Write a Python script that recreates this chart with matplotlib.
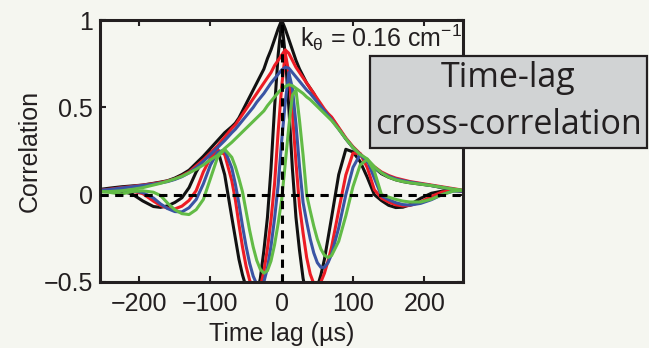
import matplotlib
matplotlib.use("Agg")
import matplotlib.pyplot as plt
from matplotlib.patches import Rectangle

plt.rcParams['font.family'] = ['Liberation Sans', 'DejaVu Sans']
plt.rcParams['mathtext.fontset'] = 'custom'
plt.rcParams['mathtext.rm'] = 'Liberation Sans'
plt.rcParams['mathtext.it'] = 'Liberation Sans:italic'

# time lag (us)
lag = [-255, -240, -225, -210, -195, -180, -170,
       -160, -150, -140, -130, -120, -110, -100, -90, -80, -70,
       -65, -60, -55, -50, -45, -40, -35, -30, -25, -20, -15, -10, -5, 0,
       5, 10, 15, 20, 25, 30, 35, 40, 45, 50, 55, 60, 65, 70,
       80, 90, 100, 110, 120, 130, 140, 150, 160, 170, 180,
       195, 210, 225, 240, 255]

# oscillating cross-correlations
osc_black = [0.03, 0.028, 0.02, 0.004, -0.036, -0.068, -0.073,
             -0.064, -0.045, -0.018, 0.04, 0.13, 0.20, 0.245, 0.26, 0.115, -0.13,
             -0.25, -0.37, -0.46, -0.53, -0.58, -0.60, -0.58, -0.48, -0.32, -0.13, 0.15, 0.50, 0.80, 1.0,
             0.80, 0.50, 0.15, -0.13, -0.32, -0.48, -0.58, -0.60, -0.58, -0.53, -0.46, -0.37, -0.25, -0.13,
             0.115, 0.26, 0.245, 0.19, 0.10, 0.0, -0.034, -0.061, -0.074, -0.072, -0.058,
             -0.021, 0.008, 0.02, 0.025, 0.02]
osc_red = [0.02, 0.025, 0.025, 0.02, 0.006, -0.037, -0.062,
           -0.078, -0.082, -0.066, -0.033, 0.023, 0.13, 0.21, 0.256, 0.23, 0.08,
           -0.03, -0.17, -0.30, -0.41, -0.49, -0.54, -0.56, -0.53, -0.44, -0.31, -0.145, 0.063, 0.36, 0.62,
           0.81, 0.70, 0.47, 0.185, -0.065, -0.22, -0.36, -0.455, -0.51, -0.52, -0.50, -0.45, -0.38, -0.30,
           -0.09, 0.113, 0.238, 0.236, 0.156, 0.028, -0.02, -0.042, -0.058, -0.065, -0.062,
           -0.042, -0.01, 0.015, 0.025, 0.02]
osc_blue = [0.02, 0.025, 0.025, 0.022, 0.012, -0.019, -0.053,
            -0.08, -0.097, -0.099, -0.075, -0.028, 0.061, 0.17, 0.242, 0.257, 0.153,
            0.06, -0.052, -0.179, -0.295, -0.393, -0.467, -0.514, -0.53, -0.50, -0.42, -0.295, -0.137, 0.055, 0.31,
            0.53, 0.70, 0.61, 0.405, 0.16, -0.045, -0.155, -0.254, -0.334, -0.39, -0.417, -0.416, -0.39, -0.342,
            -0.19, 0.0, 0.156, 0.23, 0.197, 0.094, -0.007, -0.029, -0.046, -0.057, -0.06,
            -0.05, -0.029, 0.0, 0.02, 0.02]
osc_green = [0.02, 0.012, 0.003, 0.018, 0.022, 0.014, -0.005,
             -0.049, -0.086, -0.109, -0.114, -0.086, -0.028, 0.092, 0.214, 0.26, 0.214,
             0.16, 0.092, 0.016, -0.094, -0.204, -0.30, -0.377, -0.428, -0.45, -0.436, -0.38, -0.287, -0.166, -0.028,
             0.18, 0.39, 0.57, 0.60, 0.425, 0.226, 0.0, -0.093, -0.18, -0.255, -0.312, -0.348, -0.36, -0.349,
             -0.267, -0.121, 0.046, 0.169, 0.203, 0.134, 0.0, -0.014, -0.027, -0.037, -0.042,
             -0.042, -0.026, 0.0, 0.02, 0.025]

# envelopes
env_black = [0.03, 0.038, 0.045, 0.05, 0.055, 0.065, 0.072,
             0.08, 0.095, 0.115, 0.14, 0.18, 0.22, 0.265, 0.31, 0.355, 0.39,
             0.41, 0.44, 0.48, 0.52, 0.56, 0.60, 0.64, 0.68, 0.72, 0.78, 0.83, 0.89, 0.95, 1.0,
             0.95, 0.89, 0.83, 0.77, 0.72, 0.68, 0.64, 0.61, 0.58, 0.54, 0.51, 0.48, 0.46, 0.44,
             0.38, 0.32, 0.27, 0.23, 0.19, 0.155, 0.12, 0.10, 0.085, 0.075, 0.068,
             0.06, 0.052, 0.04, 0.028, 0.02]
env_red = [0.025, 0.032, 0.04, 0.047, 0.055, 0.063, 0.07,
           0.078, 0.09, 0.108, 0.13, 0.165, 0.20, 0.24, 0.28, 0.33, 0.38,
           0.40, 0.43, 0.46, 0.49, 0.52, 0.55, 0.58, 0.61, 0.64, 0.67, 0.70, 0.74, 0.77, 0.80,
           0.83, 0.81, 0.77, 0.73, 0.70, 0.67, 0.64, 0.61, 0.58, 0.55, 0.52, 0.49, 0.465, 0.445,
           0.385, 0.325, 0.275, 0.235, 0.195, 0.16, 0.13, 0.11, 0.095, 0.085, 0.075,
           0.065, 0.055, 0.045, 0.035, 0.025]
env_blue = [0.025, 0.03, 0.038, 0.045, 0.053, 0.06, 0.067,
            0.075, 0.087, 0.103, 0.125, 0.155, 0.19, 0.23, 0.27, 0.31, 0.355,
            0.375, 0.40, 0.425, 0.45, 0.475, 0.50, 0.53, 0.555, 0.58, 0.61, 0.64, 0.665, 0.69, 0.715,
            0.73, 0.725, 0.70, 0.675, 0.65, 0.625, 0.60, 0.58, 0.555, 0.53, 0.505, 0.48, 0.455, 0.43,
            0.375, 0.32, 0.27, 0.23, 0.19, 0.155, 0.125, 0.105, 0.09, 0.08, 0.072,
            0.062, 0.052, 0.042, 0.032, 0.022]
env_green = [0.015, 0.018, 0.022, 0.03, 0.04, 0.055, 0.065,
             0.077, 0.09, 0.105, 0.125, 0.145, 0.17, 0.20, 0.225, 0.265, 0.30,
             0.32, 0.34, 0.36, 0.38, 0.40, 0.42, 0.44, 0.46, 0.48, 0.51, 0.535, 0.56, 0.585, 0.605,
             0.62, 0.63, 0.625, 0.61, 0.595, 0.58, 0.56, 0.545, 0.525, 0.505, 0.485, 0.465, 0.445, 0.425,
             0.375, 0.32, 0.27, 0.23, 0.205, 0.16, 0.125, 0.10, 0.085, 0.075, 0.068,
             0.06, 0.052, 0.042, 0.032, 0.025]

bg = '#f5f6f0'
ink = '#231f20'
series = [(osc_black, env_black, '#111111'),
          (osc_red, env_red, '#ed1c24'),
          (osc_blue, env_blue, '#3a54a4'),
          (osc_green, env_green, '#62bb46')]

fig = plt.figure(figsize=(6.49, 3.48), dpi=100, facecolor=bg)
ax = fig.add_axes([0.154, 0.19, 0.559, 0.752], facecolor=bg)

for osc, env, col in series:
    ax.plot(lag, env, color=col, lw=2.2, solid_joinstyle='round')
    ax.plot(lag, osc, color=col, lw=2.2, solid_joinstyle='round')

ax.axhline(0, color='black', lw=2.2, ls=(0, (2.7, 2.1)), zorder=4)
ax.axvline(0, color='black', lw=2.2, ls=(0, (2.7, 2.1)), zorder=4)

ax.set_xlim(-255, 254)
ax.set_ylim(-0.5, 1)
ax.set_xticks([-200, -100, 0, 100, 200])
ax.set_yticks([-0.5, 0, 0.5, 1])
ax.set_yticklabels(['\u22120.5', '0', '0.5', '1'])
ax.tick_params(direction='in', length=4, width=1.5, colors=ink,
               labelsize=18, top=True, right=True)
ax.tick_params(axis='x', pad=7)
ax.tick_params(axis='y', pad=5)
for s in ax.spines.values():
    s.set_linewidth(2.2)
    s.set_color(ink)

ax.set_xlabel('Time lag (\u00b5s)', fontsize=18, color=ink)
ax.set_ylabel('Correlation', fontsize=18, color=ink)
ax.xaxis.set_label_coords(0.5, -0.155)
ax.yaxis.set_label_coords(-0.16, 0.5)

ax.text(25, 0.85, r'$\mathregular{k_\theta}$ = 0.16 cm$^{\mathregular{-1}}$',
        fontsize=18, color=ink, va='baseline', ha='left', zorder=5)

# label box
fig.patches.append(Rectangle((0.570, 0.575), 0.427, 0.264, transform=fig.transFigure,
                             facecolor='#d1d3d4', edgecolor=ink, lw=1.6, zorder=5))
fig.text(0.7835, 0.775, 'Time-lag', fontsize=24.5, color=ink,
         ha='center', va='center', family='Open Sans', zorder=6)
fig.text(0.7835, 0.64, 'cross-correlation', fontsize=24.5, color=ink,
         ha='center', va='center', family='Open Sans', zorder=6)

fig.savefig('out.png', dpi=100, facecolor=bg)
